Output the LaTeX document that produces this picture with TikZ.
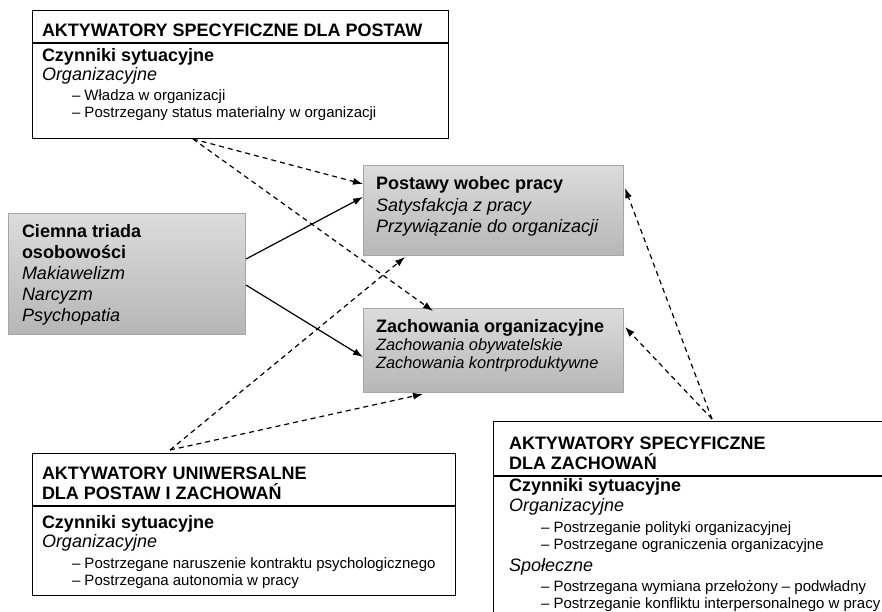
\documentclass[tikz,border=0pt]{standalone}
\usepackage{fontspec}
\setmainfont{Liberation Sans}
\usetikzlibrary{arrows.meta}
\definecolor{gtop}{HTML}{DCDCDC}
\definecolor{gbot}{HTML}{B6B6B6}
\definecolor{gedge}{HTML}{A6A6A6}
\tikzset{
  whitebox/.style={draw=black, line width=1.2pt, fill=white, inner sep=0pt, anchor=north west},
  graybox/.style={draw=gedge, line width=0.9pt, top color=gtop, bottom color=gbot, inner sep=0pt, anchor=north west},
  txt/.style={anchor=base west, inner sep=0pt, outer sep=0pt},
  bigb/.style={txt, font=\fontsize{18}{20}\selectfont\bfseries},
  bigi/.style={txt, font=\fontsize{18}{20}\selectfont\itshape},
  midi/.style={txt, font=\fontsize{16.4}{19}\selectfont\itshape},
  small/.style={txt, font=\fontsize{15}{17}\selectfont},
  sep/.style={line width=1.2pt},
  solidarrow/.style={line width=1.2pt, -{Latex[length=10pt,width=7pt]}},
  dasharrow/.style={line width=1.2pt, dash pattern=on 5pt off 4pt, -{Latex[length=10pt,width=7pt]}},
}
\begin{document}
\begin{tikzpicture}[x=1pt,y=-1pt]
\useasboundingbox (0,0) rectangle (882,611);
\clip (0,0) rectangle (882,611);
\fill[white] (0,0) rectangle (882,611);

% top box
\node[whitebox, minimum width=416pt, minimum height=128pt] (topbox) at (32,10) {};
\draw[sep] (32,43) -- (448,43);
\node[bigb] (tb1) at (42,36) {AKTYWATORY SPECYFICZNE DLA POSTAW};
\node[bigb] (tb2) at (42,61) {Czynniki sytuacyjne};
\node[bigi] (tb3) at (42,80) {Organizacyjne};
\node[small] (tb4) at (72,100) {– Władza w organizacji};
\node[small] (tb5) at (72,117) {– Postrzegany status materialny w organizacji};

% dark triad
\node[graybox, minimum width=237pt, minimum height=121pt] (triad) at (8,213) {};
\node[bigb] (tr1) at (22,237) {Ciemna triada};
\node[bigb] (tr2) at (22,258) {osobowości};
\node[bigi] (tr3) at (22,279) {Makiawelizm};
\node[bigi] (tr4) at (22,300) {Narcyzm};
\node[bigi] (tr5) at (22,321) {Psychopatia};

% postawy
\node[graybox, minimum width=260pt, minimum height=90pt] (post) at (363,165) {};
\node[bigb] (po1) at (376,189) {Postawy wobec pracy};
\node[bigi] (po2) at (376,211) {Satysfakcja z pracy};
\node[bigi] (po3) at (376,232) {Przywiązanie do organizacji};

% zachowania
\node[graybox, minimum width=260pt, minimum height=84pt] (zach) at (363,308) {};
\node[bigb] (za1) at (376,332) {Zachowania organizacyjne};
\node[midi] (za2) at (376,350) {Zachowania obywatelskie};
\node[midi] (za3) at (376,368) {Zachowania kontrproduktywne};

% bottom-left box
\node[whitebox, minimum width=423pt, minimum height=142pt] (unibox) at (32,453) {};
\draw[sep] (32,506) -- (455,506);
\node[bigb] (ub1) at (42,479) {AKTYWATORY UNIWERSALNE};
\node[bigb] (ub2) at (42,499) {DLA POSTAW I ZACHOWAŃ};
\node[bigb] (ub3) at (42,528) {Czynniki sytuacyjne};
\node[bigi] (ub4) at (42,547) {Organizacyjne};
\node[small] (ub5) at (72,568) {– Postrzegane naruszenie kontraktu psychologicznego};
\node[small] (ub6) at (72,585) {– Postrzegana autonomia w pracy};

% right box
\node[whitebox, minimum width=420pt, minimum height=220pt] (zbox) at (493,421) {};
\draw[sep] (493,476) -- (920,476);
\node[bigb] (zb1) at (509,449) {AKTYWATORY SPECYFICZNE};
\node[bigb] (zb2) at (509,469) {DLA ZACHOWAŃ};
\node[bigb] (zb3) at (509,491) {Czynniki sytuacyjne};
\node[bigi] (zb4) at (509,511) {Organizacyjne};
\node[small] (zb5) at (541,532) {– Postrzeganie polityki organizacyjnej};
\node[small] (zb6) at (541,549) {– Postrzegane ograniczenia organizacyjne};
\node[bigi] (zb7) at (509,571) {Społeczne};
\node[small] (zb8) at (541,591) {– Postrzegana wymiana przełożony – podwładny};
\node[small] (zb9) at (541,608) {– Postrzeganie konfliktu interpersonalnego w pracy};

% connector end points
\coordinate (trA) at (246,259);
\coordinate (trB) at (246,285);
\coordinate (poA) at (363,197);
\coordinate (zaA) at (363,357);
\coordinate (topS) at (193,139);
\coordinate (poB) at (363,184);
\coordinate (zaB) at (433,311);
\coordinate (uniS) at (170,450);
\coordinate (poC) at (405,257);
\coordinate (zaC) at (423,394);
\coordinate (zbS) at (712,419);
\coordinate (poD) at (625,188);
\coordinate (zaD) at (625,327);

\draw[solidarrow] (trA) -- (poA);
\draw[solidarrow] (trB) -- (zaA);
\draw[dasharrow] (topS) -- (poB);
\draw[dasharrow] (topS) -- (zaB);
\draw[dasharrow] (uniS) -- (poC);
\draw[dasharrow] (uniS) -- (zaC);
\draw[dasharrow] (zbS) -- (poD);
\draw[dasharrow] (zbS) -- (zaD);
\end{tikzpicture}
\end{document}
